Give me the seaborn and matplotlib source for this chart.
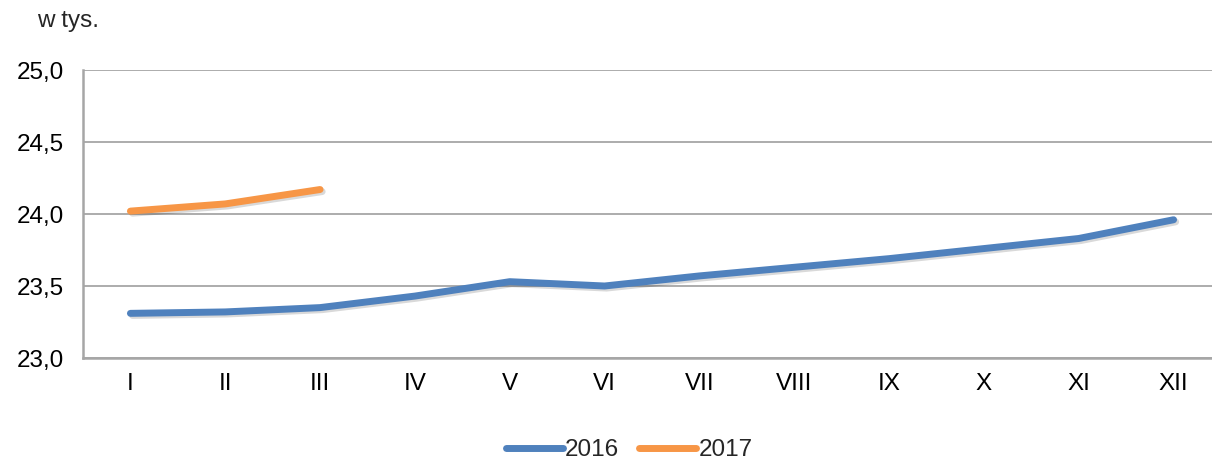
import matplotlib
matplotlib.use('Agg')
import matplotlib.pyplot as plt
import matplotlib.patheffects as pe
from matplotlib.ticker import FuncFormatter
import pandas as pd
import seaborn as sns

months = ['I', 'II', 'III', 'IV', 'V', 'VI', 'VII', 'VIII', 'IX', 'X', 'XI', 'XII']
values_2016 = [23.31, 23.32, 23.35, 23.43, 23.53, 23.50, 23.57, 23.63, 23.69, 23.76, 23.83, 23.96]
values_2017 = [24.02, 24.07, 24.17]
years = ['2016', '2017']
colors = ['#4F81BD', '#F79646']

df = pd.concat([
    pd.DataFrame({'month': months, 'value': values_2016, 'year': years[0]}),
    pd.DataFrame({'month': months[:len(values_2017)], 'value': values_2017, 'year': years[1]}),
])

sns.set_theme(style='white')
plt.rcParams['font.family'] = ['Liberation Sans', 'DejaVu Sans']
fs = 17.5

fig = plt.figure(figsize=(12.12, 4.61), dpi=100)
ax = fig.add_axes([83 / 1212, 1 - 358 / 461, 1138 / 1212, 288 / 461])

shadow = [pe.SimpleLineShadow(offset=(1.5, -1.5), alpha=0.15, shadow_color='black'), pe.Normal()]
sns.lineplot(data=df, x='month', y='value', hue='year', palette=colors, sort=False,
             linewidth=5, solid_capstyle='round', ax=ax, legend=False)
for line in ax.get_lines():
    line.set_path_effects(shadow)

ax.set_xlim(-0.5, 11.5)
ax.set_ylim(23.0, 25.0)
ax.set_yticks([23.0, 23.5, 24.0, 24.5, 25.0])
ax.yaxis.set_major_formatter(FuncFormatter(lambda v, p: f'{v:.1f}'.replace('.', ',')))
ax.grid(axis='y', color='#A6A6A6', linewidth=1.3)
ax.set_axisbelow(True)
for s in ['top', 'right']:
    ax.spines[s].set_visible(False)
for s in ['left', 'bottom']:
    ax.spines[s].set_color('#A6A6A6')
    ax.spines[s].set_linewidth(1.8)
ax.tick_params(axis='y', length=0, pad=14, labelsize=fs, colors='black')
ax.tick_params(axis='x', length=0, pad=11, labelsize=fs, colors='black')
ax.set_xlabel('')
ax.set_ylabel('')

fig.text(37 / 1212, 1 - 21 / 461, 'w tys.', fontsize=fs, va='center', ha='left')

handles = [plt.Line2D([], [], color=c, linewidth=5, solid_capstyle='round') for c in colors]
fig.legend(handles, years, loc='center', bbox_to_anchor=(629 / 1212, 1 - 450 / 461), ncol=2,
           frameon=False, fontsize=fs, handlelength=2.35, handletextpad=0.1, columnspacing=0.8)

fig.savefig('out.png', dpi=100)
